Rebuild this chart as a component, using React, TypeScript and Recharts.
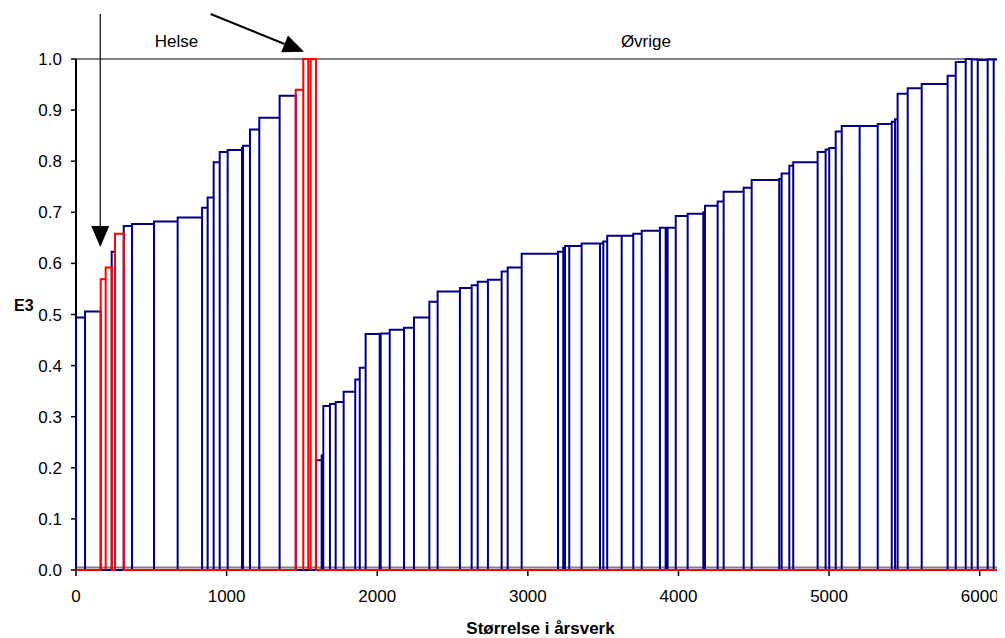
import { LineChart, Line, XAxis, YAxis, ReferenceLine, ReferenceDot } from "recharts"

// årsverk per enhet, sortert etter E3 innen hver gruppe (Helse først, så Øvrige)
const sizes = [
  60, 104, 33, 40, 22, 58, 55, 146, 157, 162, 37, 40, 40, 53, 95, 7, 46, 62, 135, 107, 50, 33, 16, 35,
  38, 11, 44, 38, 53, 77, 30, 39, 93, 7, 60, 95, 66, 102, 55, 148, 78, 40, 68, 91, 40, 93, 241, 35, 12, 28,
  82, 122, 22, 26, 96, 77, 56, 121, 38, 13, 54, 79, 104, 11, 84, 40, 133, 53, 183, 16, 51, 26, 162, 53, 24,
  43, 40, 119, 120, 93, 22, 17, 67, 93, 172, 54, 66, 40, 40, 66, 40, 53, 22,
]

const e3 = [
  0.494, 0.506, 0.569, 0.592, 0.623, 0.658, 0.673, 0.677, 0.682, 0.69, 0.709, 0.729, 0.798, 0.818, 0.822,
  0.826, 0.83, 0.862, 0.885, 0.928, 0.94, 1.0, 1.0, 1.0,
  0.215, 0.224, 0.321, 0.325, 0.329, 0.349, 0.373, 0.396, 0.462, 0.458, 0.463, 0.47, 0.474, 0.494, 0.525,
  0.545, 0.552, 0.557, 0.564, 0.568, 0.584, 0.592, 0.619, 0.623, 0.63, 0.634, 0.634, 0.639, 0.639, 0.643,
  0.654, 0.654, 0.658, 0.664, 0.67, 0.668, 0.67, 0.693, 0.697, 0.7, 0.713, 0.721, 0.74, 0.748, 0.763, 0.765,
  0.776, 0.791, 0.798, 0.818, 0.823, 0.826, 0.858, 0.869, 0.869, 0.873, 0.877, 0.882, 0.932, 0.943, 0.951,
  0.967, 0.994, 1.0, 0.999, 0.998, 0.999, 0.999, 1.0,
]

// enheter som er uthevet (rødt)
const marked = [2, 3, 5, 20, 21, 22, 23]

const xTicks = [0, 1000, 2000, 3000, 4000, 5000, 6000]
const yTicks = [0, 0.1, 0.2, 0.3, 0.4, 0.5, 0.6, 0.7, 0.8, 0.9, 1.0]

const font = "'Liberation Sans', Arial, sans-serif"

// omriss av søylene (Salter-diagram) for én gruppe
function outline(red: boolean) {
  const pts = [{ x: 0, y: 0 }]
  let x0 = 0
  sizes.forEach((s, i) => {
    const x1 = x0 + s
    if (marked.includes(i) === red) {
      pts.push({ x: x0, y: 0 }, { x: x0, y: e3[i] }, { x: x1, y: e3[i] }, { x: x1, y: 0 })
    } else {
      pts.push({ x: x1, y: 0 })
    }
    x0 = x1
  })
  return pts
}

const Arrow = (props: any) => {
  const { x1, y1, x2, y2, strokeWidth } = props
  const dx = x2 - x1
  const dy = y2 - y1
  const len = Math.hypot(dx, dy)
  const ux = dx / len
  const uy = dy / len
  const hl = 21
  const hw = 9
  const bx = x2 - ux * hl
  const by = y2 - uy * hl
  return (
    <g>
      <line x1={x1} y1={y1} x2={bx} y2={by} stroke="#000" strokeWidth={strokeWidth} />
      <polygon
        points={`${x2},${y2} ${bx - uy * hw},${by + ux * hw} ${bx + uy * hw},${by - ux * hw}`}
        fill="#000"
      />
    </g>
  )
}

export default function App() {
  return (
    <LineChart width={997} height={630} margin={{ top: 51, right: 0, left: 0, bottom: 0 }}>
      <XAxis
        type="number"
        dataKey="x"
        domain={[0, 6168]}
        ticks={xTicks}
        height={68}
        tickSize={6}
        tickMargin={14}
        tick={{ fill: "#000", fontSize: 17, fontFamily: font }}
        tickLine={{ stroke: "#000", strokeWidth: 1.5 }}
        axisLine={{ stroke: "#808080", strokeWidth: 2, transform: "translate(0,-2.5)" }}
        label={{
          value: "Størrelse i årsverk",
          position: "insideBottom",
          offset: 4,
          fill: "#000",
          fontSize: 17,
          fontWeight: "bold",
          fontFamily: font,
        }}
      />
      <YAxis
        type="number"
        domain={[0, 1]}
        ticks={yTicks}
        width={68}
        tickSize={5}
        tickMargin={9}
        tickFormatter={(v: number) => v.toFixed(1)}
        tick={{ fill: "#000", fontSize: 17, fontFamily: font }}
        tickLine={{ stroke: "#000", strokeWidth: 1.5 }}
        axisLine={{ stroke: "#000", strokeWidth: 2 }}
        label={{
          value: "E3",
          position: "insideLeft",
          offset: 6,
          dy: -9,
          fill: "#000",
          fontSize: 16,
          fontWeight: "bold",
          fontFamily: font,
        }}
      />
      <ReferenceLine y={1} stroke="#808080" strokeWidth={2} />
      <Line
        data={outline(false)}
        dataKey="y"
        type="linear"
        stroke="#000080"
        strokeWidth={2}
        dot={false}
        activeDot={false}
        zIndex={600}
        isAnimationActive={false}
      />
      <Line
        data={outline(true)}
        dataKey="y"
        type="linear"
        stroke="#ff0000"
        strokeWidth={2}
        dot={false}
        activeDot={false}
        zIndex={610}
        isAnimationActive={false}
      />
      <ReferenceLine
        segment={[{ x: 161, y: 1.088 }, { x: 161, y: 0.632 }]}
        ifOverflow="visible"
        strokeWidth={1.2}
        shape={Arrow}
      />
      <ReferenceLine
        segment={[{ x: 894, y: 1.088 }, { x: 1514, y: 1.014 }]}
        ifOverflow="visible"
        strokeWidth={2}
        shape={Arrow}
      />
      <ReferenceDot
        x={667}
        y={1.035}
        r={0}
        ifOverflow="visible"
        label={{ value: "Helse", position: "center", fill: "#000", fontSize: 17, fontFamily: font }}
      />
      <ReferenceDot
        x={3784}
        y={1.035}
        r={0}
        ifOverflow="visible"
        label={{ value: "Øvrige", position: "center", fill: "#000", fontSize: 17, fontFamily: font }}
      />
    </LineChart>
  )
}
